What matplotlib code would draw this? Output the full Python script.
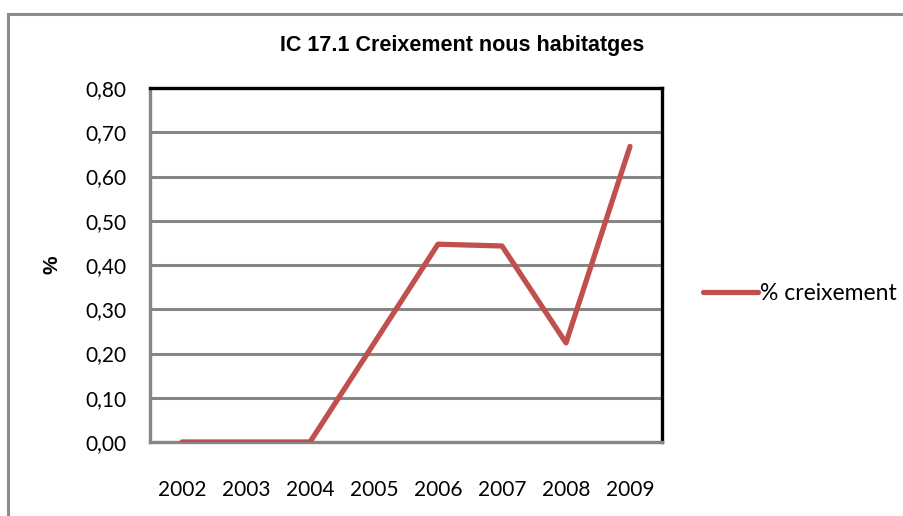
import matplotlib
matplotlib.use("Agg")
import matplotlib.pyplot as plt
from matplotlib.patches import Rectangle

# data
years = ['2002', '2003', '2004', '2005', '2006', '2007', '2008', '2009']
creixement = [0.0, 0.0, 0.0, 0.223, 0.447, 0.443, 0.224, 0.668]
yticks = [0.0, 0.1, 0.2, 0.3, 0.4, 0.5, 0.6, 0.7, 0.8]

W, H = 904, 516
fig = plt.figure(figsize=(W / 100, H / 100), dpi=100)

# chart area border (runs off the right and bottom edges)
fig.patches.append(Rectangle((8 / W, -0.1), 1.2, 1 - 14 / H + 0.1,
                             transform=fig.transFigure, fill=False,
                             edgecolor='#8c8c8c', linewidth=2.2))

ax = fig.add_axes([150 / W, 1 - 442 / H, 512 / W, 354 / H])
x = list(range(len(years)))
ax.plot(x, creixement, color='#c0504d', linewidth=3.8,
        solid_capstyle='round', solid_joinstyle='round',
        label='% creixement', zorder=3)

ax.set_xlim(-0.5, len(years) - 0.5)
ax.set_ylim(0, 0.8)
ax.set_yticks(yticks)
ax.set_yticklabels([('%.2f' % v).replace('.', ',') for v in yticks],
                   family='Lato', fontsize=15)
ax.set_xticks(x)
ax.set_xticklabels(years, family='Lato', fontsize=15)
ax.tick_params(axis='both', length=0)
ax.tick_params(axis='y', pad=17)
ax.tick_params(axis='x', pad=27)

ax.grid(axis='y', color='#868686', linewidth=2.2)
ax.set_axisbelow(True)
for s in ['top', 'right']:
    ax.spines[s].set_color('black')
    ax.spines[s].set_linewidth(2.4)
for s in ['left', 'bottom']:
    ax.spines[s].set_color('#868686')
    ax.spines[s].set_linewidth(2.4)

fig.text(52 / W, 1 - 265 / H, '%', rotation=90, ha='center', va='center',
         family='Liberation Sans', fontweight='bold', fontsize=15)
fig.text(462 / W, 1 - 46 / H, 'IC 17.1 Creixement nous habitatges',
         ha='center', va='center', family='Liberation Sans',
         fontweight='bold', fontsize=15.5)

leg = fig.legend(loc='center left', bbox_to_anchor=(682 / W, 1 - 294 / H),
                 frameon=False, handlelength=2.4, handletextpad=0.1,
                 prop={'family': 'Lato', 'size': 16.5})

fig.savefig('out.png', dpi=100)
